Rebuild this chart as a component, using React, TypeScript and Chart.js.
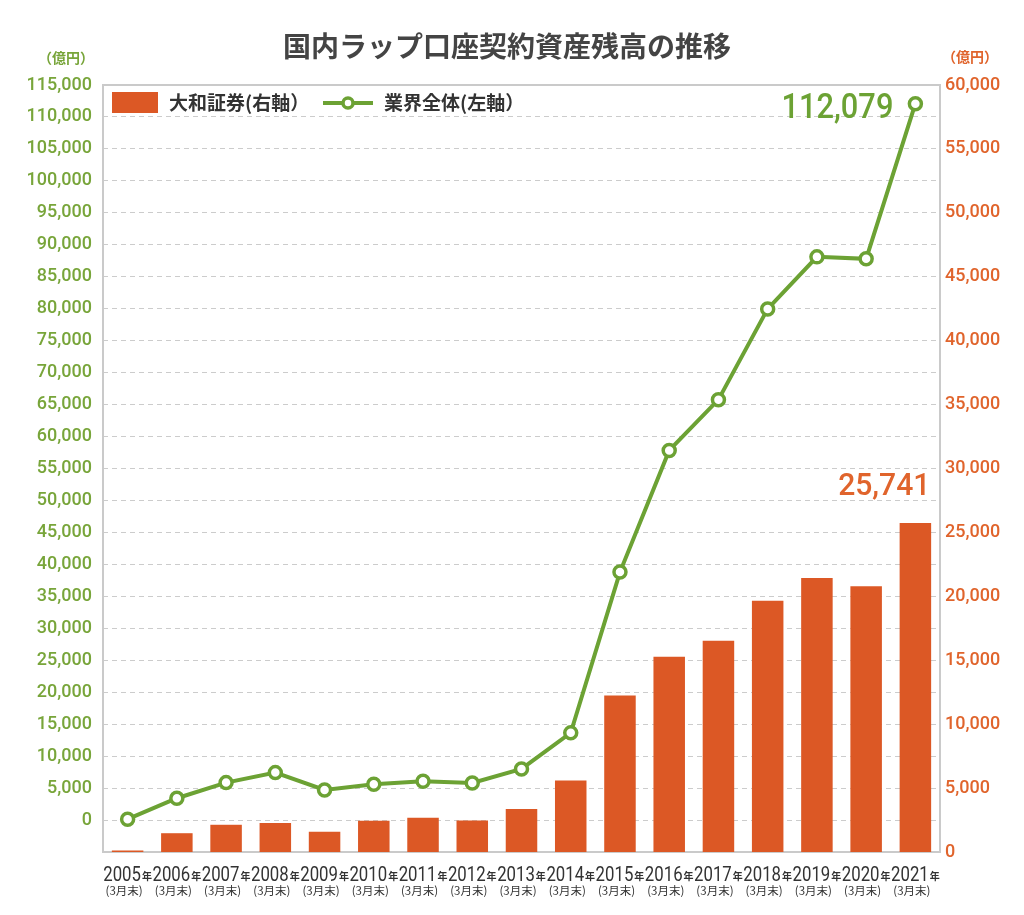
import { useEffect, useRef } from 'react';
import { Chart, registerables } from 'chart.js';

Chart.register(...registerables);

const years = ['2005', '2006', '2007', '2008', '2009', '2010', '2011', '2012', '2013', '2014', '2015', '2016', '2017', '2018', '2019', '2020', '2021'];
const yearSuffix = '年';
const subLabel = '(3月末)';
const daiwaValues = [120, 1470, 2130, 2260, 1580, 2445, 2680, 2470, 3355, 5600, 12240, 15270, 16520, 19660, 21440, 20790, 25741];
const industryValues = [130, 3410, 5855, 7420, 4710, 5600, 6075, 5810, 8000, 13640, 38800, 57830, 65770, 79970, 88110, 87800, 112079];
const leftAxis = { min: -5000, max: 115000, step: 5000 };
const rightAxis = { min: 0, max: 60000, step: 5000 };
const titleText = '国内ラップ口座契約資産残高の推移';
const unitText = '（億円）';
const daiwaLabel = '大和証券(右軸）';
const industryLabel = '業界全体(左軸）';
const daiwaHighlight = '25,741';
const industryHighlight = '112,079';

const GREEN = '#6ca234';
const GREEN_TEXT = '#78a53a';
const ORANGE = '#dc5825';
const ORANGE_TEXT = '#e0642c';
const CJK = '"Noto Sans CJK JP"';

const fmt = (v: number) => v.toLocaleString('en-US');

const decorPlugin = {
  id: 'decor',
  beforeDatasetsDraw(chart: any) {
    const { ctx, chartArea: a } = chart;
    ctx.save();
    ctx.strokeStyle = '#cacaca';
    ctx.lineWidth = 2;
    ctx.strokeRect(a.left, a.top, a.right - a.left, a.bottom - a.top);
    ctx.restore();
  },
  afterDraw(chart: any) {
    const { ctx } = chart;
    const xs = chart.scales.x;
    const yl = chart.scales.yLeft;
    const yr = chart.scales.yRight;
    ctx.save();

    // title
    ctx.fillStyle = '#444';
    ctx.font = `bold 28px ${CJK}`;
    ctx.textAlign = 'center';
    ctx.textBaseline = 'middle';
    ctx.fillText(titleText, 507, 46);

    // units
    ctx.font = `bold 14px ${CJK}`;
    ctx.fillStyle = GREEN_TEXT;
    ctx.fillText(unitText, 66, 58);
    ctx.fillStyle = ORANGE_TEXT;
    ctx.fillText(unitText, 970, 57);

    // legend
    ctx.fillStyle = ORANGE;
    ctx.fillRect(112, 92, 46, 21);
    ctx.fillStyle = '#333';
    ctx.font = `bold 19px ${CJK}`;
    ctx.textAlign = 'left';
    ctx.textBaseline = 'middle';
    ctx.fillText(daiwaLabel, 169, 103);
    ctx.strokeStyle = GREEN;
    ctx.lineWidth = 4;
    ctx.beginPath();
    ctx.moveTo(323, 103);
    ctx.lineTo(373, 103);
    ctx.stroke();
    ctx.beginPath();
    ctx.arc(348, 103, 5, 0, Math.PI * 2);
    ctx.fillStyle = '#fff';
    ctx.fill();
    ctx.lineWidth = 3.5;
    ctx.stroke();
    ctx.fillStyle = '#333';
    ctx.fillText(industryLabel, 384, 103);

    // x labels
    years.forEach((y, i) => {
      const cx = xs.getPixelForValue(i);
      const cond = 0.86;
      ctx.font = '19.5px Roboto';
      const yw = ctx.measureText(y).width * cond;
      ctx.font = `bold 10px ${CJK}`;
      const nw = ctx.measureText(yearSuffix).width;
      const total = yw + 1 + nw;
      const sx = cx - total / 2;
      ctx.fillStyle = '#333';
      ctx.save();
      ctx.translate(sx, 881);
      ctx.scale(cond, 1);
      ctx.font = '19.5px Roboto';
      ctx.textAlign = 'left';
      ctx.textBaseline = 'alphabetic';
      ctx.fillText(y, 0, 0);
      ctx.restore();
      ctx.font = `bold 10px ${CJK}`;
      ctx.textAlign = 'left';
      ctx.textBaseline = 'alphabetic';
      ctx.fillText(yearSuffix, sx + yw + 1, 880);
      ctx.font = `11.5px ${CJK}`;
      ctx.textAlign = 'center';
      ctx.textBaseline = 'middle';
      ctx.fillText(subLabel, sx + yw / 2 + 2, 891);
    });

    // highlight values
    const last = years.length - 1;
    const px = xs.getPixelForValue(last);
    const pyL = yl.getPixelForValue(industryValues[last]);
    const pyR = yr.getPixelForValue(daiwaValues[last]);
    const drawCond = (t: string, font: string, color: string, right: number, base: number, cond: number) => {
      ctx.font = font;
      const w = ctx.measureText(t).width * cond;
      ctx.save();
      ctx.translate(right - w, base);
      ctx.scale(cond, 1);
      ctx.fillStyle = color;
      ctx.textAlign = 'left';
      ctx.textBaseline = 'alphabetic';
      ctx.fillText(t, 0, 0);
      ctx.restore();
    };
    drawCond(industryHighlight, '500 35px Roboto', GREEN, px - 22, pyL + 14, 0.88);
    drawCond(daiwaHighlight, '500 32px Roboto', ORANGE_TEXT, px + 15, pyR - 28, 0.94);

    ctx.restore();
  },
};

export default function App() {
  const ref = useRef<HTMLCanvasElement | null>(null);
  useEffect(() => {
    document.body.style.margin = '0';
    const canvas = ref.current;
    if (!canvas) return;
    const chart = new Chart(canvas, {
      type: 'bar',
      data: {
        labels: years,
        datasets: [
          {
            type: 'line',
            label: industryLabel,
            data: industryValues,
            yAxisID: 'yLeft',
            borderColor: GREEN,
            borderWidth: 4,
            pointRadius: 6,
            pointBorderWidth: 3.5,
            pointBackgroundColor: '#fff',
            pointBorderColor: GREEN,
            tension: 0,
            order: 0,
          } as any,
          {
            type: 'bar',
            label: daiwaLabel,
            data: daiwaValues,
            yAxisID: 'yRight',
            backgroundColor: ORANGE,
            barPercentage: 0.64,
            categoryPercentage: 1,
            order: 1,
          },
        ],
      },
      options: {
        responsive: false,
        animation: false,
        layout: { padding: { left: 0, right: 0, top: 85, bottom: 63 }, autoPadding: false } as any,
        plugins: { legend: { display: false }, tooltip: { enabled: false }, title: { display: false } },
        scales: {
          x: { display: false, offset: true },
          yLeft: {
            position: 'left',
            min: leftAxis.min,
            max: leftAxis.max,
            afterFit: (s: any) => { s.width = 103; },
            ticks: {
              stepSize: leftAxis.step,
              color: GREEN_TEXT,
              padding: 11,
              font: { family: 'Roboto', size: 18, weight: '500' },
              callback: (v: any) => (Number(v) < 0 ? '' : fmt(Number(v))),
            },
            grid: {
              drawTicks: false,
              color: (c: any) => (c.tick && (c.tick.value < 0 || c.tick.value >= leftAxis.max) ? 'rgba(0,0,0,0)' : '#cccccc'),
              lineWidth: 1,
            },
            border: { display: false, dash: [5, 4] },
          },
          yRight: {
            position: 'right',
            min: rightAxis.min,
            max: rightAxis.max,
            afterFit: (s: any) => { s.width = 84; },
            ticks: {
              stepSize: rightAxis.step,
              color: ORANGE_TEXT,
              padding: 5,
              font: { family: 'Roboto', size: 18, weight: '500' },
              callback: (v: any) => fmt(Number(v)),
            },
            grid: { display: false, drawTicks: false },
            border: { display: false },
          },
        } as any,
      },
      plugins: [decorPlugin],
    });
    return () => chart.destroy();
  }, []);
  return (
    <div style={{ width: 1024, height: 915 }}>
      <canvas ref={ref} width={1024} height={915} style={{ display: 'block' }} />
    </div>
  );
}
